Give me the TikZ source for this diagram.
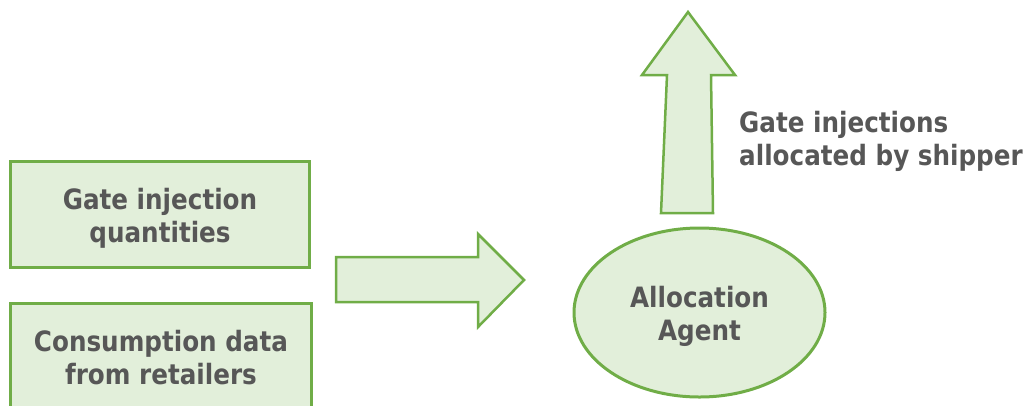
\documentclass[tikz,border=0pt]{standalone}
\usepackage{fontspec}
\usetikzlibrary{shapes.geometric}
\newfontfamily\lblfont{DejaVu Sans}[FakeStretch=0.88]
\definecolor{boxfill}{HTML}{E2EFDA}
\definecolor{boxline}{HTML}{70AD47}
\definecolor{txt}{HTML}{575757}
\begin{document}
\begin{tikzpicture}[x=1pt,y=-1pt,
  lbl/.style={font=\lblfont\bfseries\fontsize{28}{33}\selectfont, text=txt, align=center, inner sep=0pt},
  stepbox/.style={draw=boxline, fill=boxfill, line width=3pt, inner sep=0pt},
  blockarrow/.style={draw=boxline, fill=boxfill, line width=2.5pt, line join=miter}]
\useasboundingbox (0,0) rectangle (1024,405);
\clip (0,0) rectangle (1024,405);
% input boxes
\node[stepbox, minimum width=299pt, minimum height=106pt] (gate) at (160,214.5) {};
\node[lbl] (gatetext) at ([yshift=-3.5pt]gate.center) {Gate injection\\quantities};
\node[stepbox, minimum width=301pt, minimum height=109pt] (cons) at (161,358) {};
\node[lbl] (constext) at (cons.center) {Consumption data\\from retailers};
% arrow into the agent
\draw[blockarrow] (336,257) -- (478,257) -- (478,234) -- (524,280) -- (478,327) -- (478,302) -- (336,302) -- cycle;
% allocation agent
\node[stepbox, ellipse, minimum width=251pt, minimum height=169pt] (agent) at (699.5,312.5) {};
\node[lbl] (agenttext) at ([yshift=-3.5pt]agent.center) {Allocation\\Agent};
% output arrow
\draw[blockarrow] (661,213) -- (667,75) -- (642,75) -- (688,12) -- (735,75) -- (711,75) -- (713,213) -- cycle;
\node[lbl, align=left, anchor=west] (out) at (739,141) {Gate injections\\allocated by shipper};
\end{tikzpicture}
\end{document}
